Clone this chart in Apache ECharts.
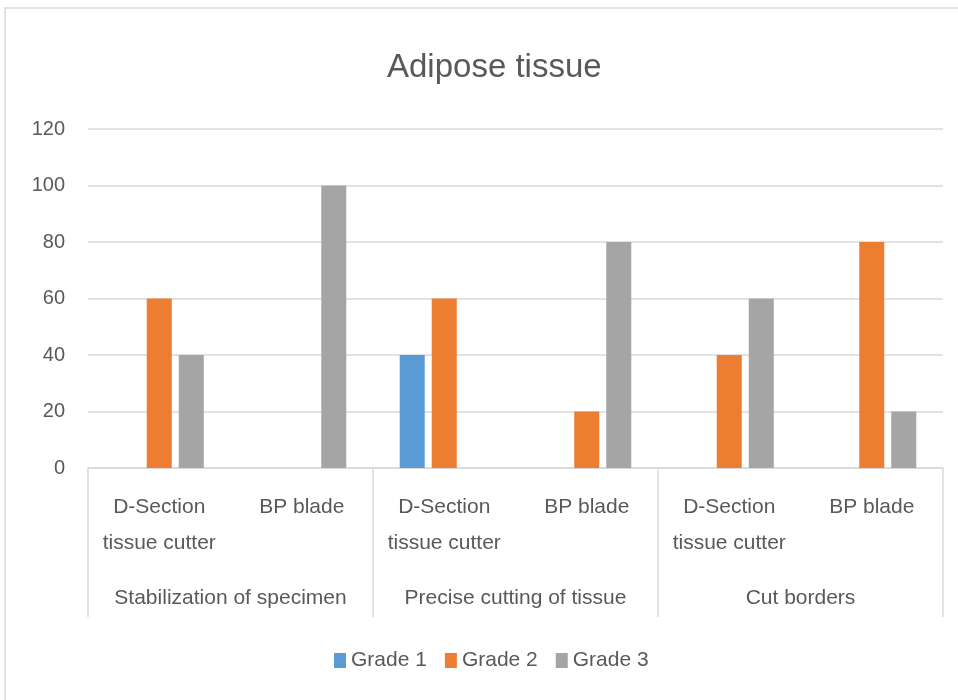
<!DOCTYPE html>
<html>
<head>
<meta charset="utf-8">
<script src="https://cdn.jsdelivr.net/npm/echarts@6/dist/echarts.min.js"></script>
<style>
html,body{margin:0;padding:0;background:#fff;}
#main{width:958px;height:700px;}
</style>
</head>
<body>
<div id="main"></div>
<script>
// categories, two-level x axis
var subCategories = ['D-Section\ntissue cutter', 'BP blade', 'D-Section\ntissue cutter', 'BP blade', 'D-Section\ntissue cutter', 'BP blade'];
var groupCategories = ['Stabilization of specimen', 'Precise cutting of tissue', 'Cut borders'];
var seriesNames = ['Grade 1', 'Grade 2', 'Grade 3'];
var grade1 = [0, 0, 40, 0, 0, 0];
var grade2 = [60, 0, 60, 20, 40, 80];
var grade3 = [40, 100, 0, 80, 60, 20];
var yTicks = [0, 20, 40, 60, 80, 100, 120];

var colors = ['#5b9bd5', '#ed7d31', '#a5a5a5'];
var fontName = 'Liberation Sans';
var txtColor = '#595959';
var lineColor = '#d9d9d9';

var chart = echarts.init(document.getElementById('main'));

function makeSeries(name, data, idx) {
    return {
        name: name,
        type: 'bar',
        data: data,
        xAxisIndex: 0,
        barGap: '28%',
        barCategoryGap: '37.5%',
        itemStyle: {color: colors[idx]},
        silent: true
    };
}

var option = {
    animation: false,
    backgroundColor: '#fff',
    title: {
        text: 'Adipose tissue',
        left: 382,
        top: 46,
        textStyle: {fontFamily: fontName, fontSize: 33, fontWeight: 'normal', color: txtColor}
    },
    legend: {
        data: seriesNames,
        bottom: 24,
        left: 329,
        itemWidth: 12,
        itemHeight: 15,
        itemGap: 18,
        icon: 'rect',
        textStyle: {fontFamily: fontName, fontSize: 21, color: txtColor}
    },
    grid: {left: 88, right: 15, top: 129, bottom: 232, containLabel: false},
    xAxis: [{
        type: 'category',
        data: subCategories,
        axisLine: {lineStyle: {color: lineColor, width: 1.5}},
        axisTick: {show: false},
        axisLabel: {
            interval: 0,
            margin: 21,
            fontFamily: fontName,
            fontSize: 21,
            lineHeight: 36,
            color: txtColor
        }
    }, {
        type: 'category',
        data: groupCategories,
        position: 'bottom',
        axisLine: {show: false},
        axisTick: {show: true, length: 149, interval: 0, lineStyle: {color: lineColor, width: 1.5}},
        axisLabel: {
            interval: 0,
            margin: 120,
            fontFamily: fontName,
            fontSize: 21,
            lineHeight: 21,
            color: txtColor
        }
    }],
    yAxis: {
        type: 'value',
        min: yTicks[0],
        max: yTicks[yTicks.length - 1],
        interval: 20,
        axisLine: {show: false},
        axisTick: {show: false},
        splitLine: {lineStyle: {color: lineColor, width: 1.5}},
        axisLabel: {margin: 23, fontFamily: fontName, fontSize: 20, color: txtColor}
    },
    graphic: [{
        type: 'rect',
        shape: {x: 5, y: 8, width: 960, height: 700},
        style: {fill: 'none', stroke: lineColor, lineWidth: 1.5},
        silent: true
    }],
    series: [
        makeSeries(seriesNames[0], grade1, 0),
        makeSeries(seriesNames[1], grade2, 1),
        makeSeries(seriesNames[2], grade3, 2)
    ]
};
chart.setOption(option);
</script>
</body>
</html>
